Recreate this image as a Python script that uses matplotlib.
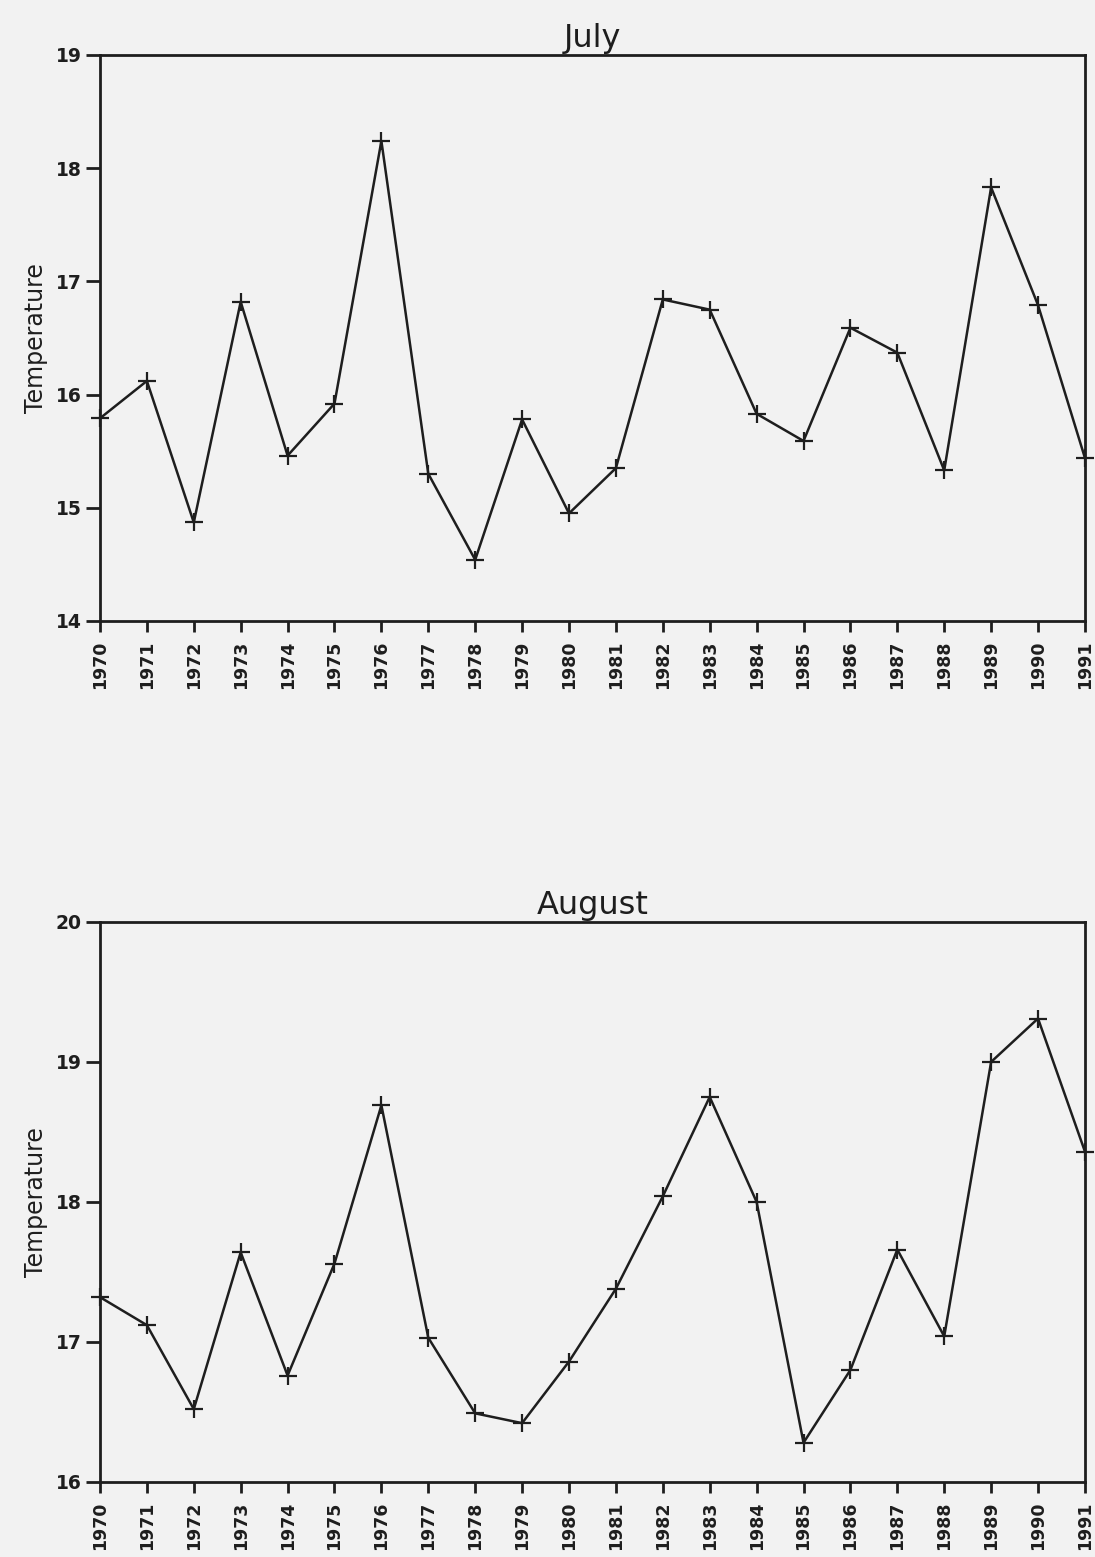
import matplotlib
matplotlib.use("Agg")
import matplotlib.pyplot as plt

years = list(range(1970, 1992))

july_temp = [15.79, 16.12, 14.87, 16.82, 15.46, 15.92, 18.24, 15.30, 14.54, 15.78, 14.95,
             15.35, 16.84, 16.75, 15.83, 15.59, 16.59, 16.37, 15.33, 17.83, 16.79, 15.44]

august_temp = [17.32, 17.12, 16.52, 17.64, 16.76, 17.56, 18.69, 17.03, 16.49, 16.42, 16.86,
               17.38, 18.04, 18.75, 18.00, 16.28, 16.80, 17.66, 17.04, 19.00, 19.31, 18.36]

july_yticks = [14, 15, 16, 17, 18, 19]
august_yticks = [16, 17, 18, 19, 20]

ink = "#1e1e1e"
paper = "#f2f2f2"

fig = plt.figure(figsize=(10.95, 15.57), dpi=100, facecolor=paper)

panels = [
    ("July", july_temp, july_yticks, [0.0913, 0.6012, 0.8995, 0.3635]),
    ("August", august_temp, august_yticks, [0.0913, 0.0482, 0.8995, 0.3597]),
]

for title, temps, yticks, rect in panels:
    ax = fig.add_axes(rect, facecolor=paper)
    ax.plot(years, temps, color=ink, lw=1.8, marker="+", markersize=13,
            markeredgewidth=1.6, clip_on=False)
    ax.set_xlim(years[0], years[-1])
    ax.set_ylim(yticks[0], yticks[-1])
    ax.set_xticks(years)
    ax.set_xticklabels([str(y) for y in years], rotation=90, fontsize=12.5,
                       fontweight="bold", color=ink)
    ax.set_yticks(yticks)
    ax.set_yticklabels([str(t) for t in yticks], fontsize=13.5,
                       fontweight="bold", color=ink)
    ax.tick_params(axis="x", direction="out", length=8, width=2, color=ink, pad=6)
    ax.tick_params(axis="y", direction="out", length=10, width=2, color=ink, pad=3)
    for side in ax.spines.values():
        side.set_linewidth(2)
        side.set_color(ink)
    ax.set_title(title, fontsize=23, color=ink, pad=6)
    ax.set_ylabel("Temperature", fontsize=17, color=ink, labelpad=6)

fig.savefig("out.png", dpi=100, facecolor=paper)
